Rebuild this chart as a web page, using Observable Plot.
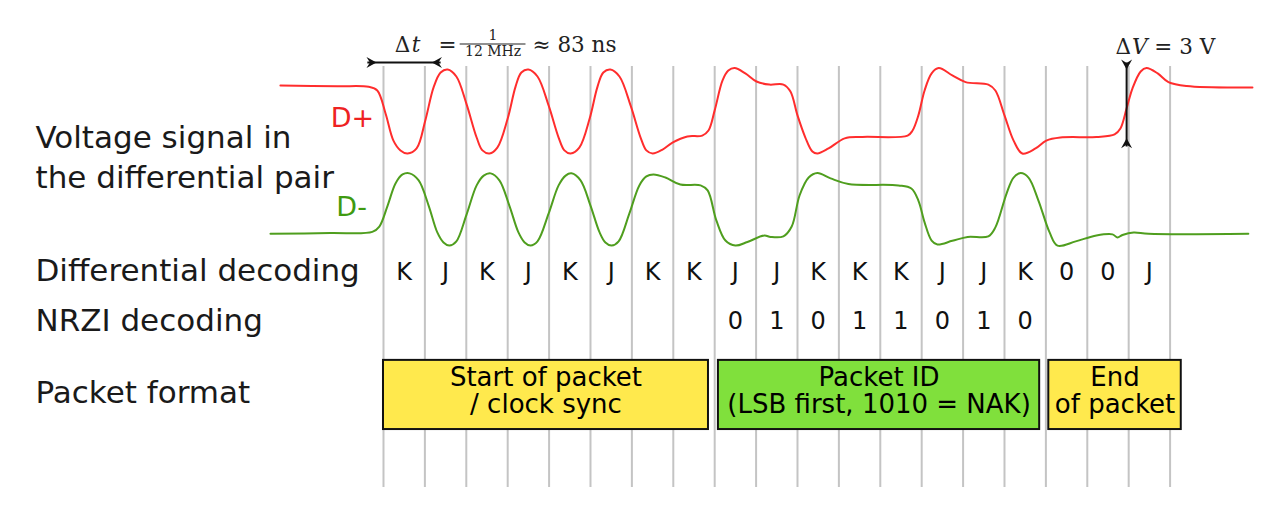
<!DOCTYPE html>
<html>
<head>
<meta charset="utf-8">
<script src="https://cdn.jsdelivr.net/npm/d3@7"></script>
<script src="https://cdn.jsdelivr.net/npm/@observablehq/plot@0.6"></script>
<style>
  html, body { margin: 0; padding: 0; background: #ffffff; }
  #chart svg { display: block; }
</style>
</head>
<body>
<div id="chart"></div>
<script>
// ---------------- DATA ----------------
// bit boundaries (in bit periods, 1 bit = 1/12 MHz)
const bitBoundaries = [0, 1, 2, 3, 4, 5, 6, 7, 8, 9, 10, 11, 12, 13, 14, 15, 16, 17, 18, 19];

// differential decoding, one symbol per bit
const diffSymbols = ["K", "J", "K", "J", "K", "J", "K", "K", "J", "J", "K", "K", "K", "J", "J", "K", "0", "0", "J"];

// NRZI decoded bits, starting at bit 8
const nrziBits = ["0", "1", "0", "1", "1", "0", "1", "0"];
const nrziFirstBit = 8;

// D+ trace: time (bits) and voltage (V)
const dPlusT = [-2.49, -1.11, -0.36, -0.15, 0.05, 0.24, 0.41, 0.58, 0.80, 1.01, 1.21, 1.38, 1.55, 1.76, 2.00, 2.25, 2.39, 2.56,
  2.75, 3.00, 3.19, 3.33, 3.50, 3.72, 3.99, 4.23, 4.37, 4.52, 4.73, 4.98, 5.17, 5.31, 5.48, 5.70, 5.97, 6.21, 6.35, 6.50,
  6.74, 6.98, 7.34, 7.70, 7.85, 8.00, 8.19, 8.33, 8.48, 8.74, 9.01, 9.32, 9.66, 9.83, 10.00, 10.19, 10.36, 10.48, 10.75,
  11.14, 11.57, 12.66, 12.78, 12.92, 13.07, 13.24, 13.41, 13.74, 14.06, 14.61, 14.78, 15.00, 15.22, 15.43, 15.75, 16.01,
  16.35, 17.22, 17.66, 17.80, 17.95, 18.09, 18.29, 18.43, 18.70, 18.96, 19.40, 20.99];
const dPlusV = [2.43, 2.40, 2.38, 2.25, 1.43, 0.46, 0.11, 0.00, 0.18, 1.18, 2.36, 2.89, 3.00, 2.75, 1.79, 0.57, 0.11, 0.00,
  0.21, 1.25, 2.39, 2.89, 3.00, 2.75, 1.71, 0.57, 0.11, 0.00, 0.21, 1.25, 2.39, 2.89, 3.00, 2.75, 1.71, 0.57, 0.11, 0.00,
  0.14, 0.39, 0.61, 0.64, 0.82, 1.54, 2.61, 2.96, 3.05, 2.86, 2.57, 2.46, 2.46, 2.21, 1.36, 0.57, 0.07, 0.00, 0.18,
  0.54, 0.59, 0.64, 0.82, 1.36, 2.25, 2.86, 3.05, 2.79, 2.55, 2.46, 2.25, 1.36, 0.46, 0.00, 0.18, 0.46,
  0.57, 0.59, 0.68, 0.89, 1.61, 2.32, 2.93, 3.05, 2.86, 2.55, 2.41, 2.36];

// D- trace: time (bits) and voltage (V)
const dMinusT = [-2.73, -1.28, -0.27, -0.10, 0.10, 0.29, 0.46, 0.63, 0.85, 1.09, 1.30, 1.45, 1.59, 1.76, 2.00, 2.25, 2.42, 2.59,
  2.80, 3.04, 3.26, 3.41, 3.55, 3.72, 3.99, 4.23, 4.40, 4.54, 4.76, 5.00, 5.22, 5.36, 5.51, 5.68, 5.94, 6.18, 6.35, 6.52,
  6.81, 7.17, 7.66, 7.83, 8.04, 8.26, 8.50, 8.79, 9.20, 9.35, 9.66, 9.86, 10.05, 10.27, 10.48, 10.80, 11.23, 12.44, 12.75,
  12.92, 13.07, 13.24, 13.38, 13.74, 14.11, 14.61, 14.78, 15.05, 15.22, 15.39, 15.58, 15.82, 16.09, 16.28, 16.72, 17.22,
  17.61, 17.73, 17.85, 18.12, 18.48, 20.89];
const dMinusV = [0.43, 0.46, 0.50, 0.69, 1.44, 2.23, 2.55, 2.59, 2.34, 1.44, 0.48, 0.12, 0.01, 0.16, 1.09, 2.16, 2.51, 2.59,
  2.34, 1.44, 0.48, 0.12, 0.01, 0.16, 1.16, 2.16, 2.51, 2.59, 2.34, 1.44, 0.48, 0.12, 0.01, 0.16, 1.16, 2.16, 2.48, 2.55,
  2.44, 2.19, 2.16, 1.98, 0.91, 0.19, 0.01, 0.14, 0.37, 0.32, 0.34, 0.69, 1.80, 2.44, 2.60, 2.41, 2.21, 2.16, 2.05,
  1.62, 0.84, 0.19, 0.05, 0.18, 0.32, 0.34, 0.66, 1.87, 2.44, 2.60, 2.44, 1.62, 0.48, 0.01, 0.16, 0.37,
  0.41, 0.30, 0.39, 0.48, 0.43, 0.43];

// packet fields (in bits)
const fieldStart = [0, 8.09, 16.07];
const fieldEnd = [7.85, 15.85, 19.27];
const fieldLabel = ["Start of packet\n/ clock sync", "Packet ID\n(LSB first, 1010 = NAK)", "End\nof packet"];
const fieldKind = ["sync", "pid", "eop"];

// row labels
const rowLabels = ["Voltage signal in\nthe differential pair", "Differential decoding", "NRZI decoding", "Packet format"];

// annotations
const dtLabel = { delta: "Δ", sym: "t", eq: "=", num: "1", den: "12 MHz", approx: "≈ 83 ns" };
const dvLabel = { delta: "Δ", sym: "V", rest: "= 3 V" };
const dvVolts = [0.25, 3.25];

// ---------------- LAYOUT (data units: bits / volts) ----------------
const L = {
  xDomain: [-9.251, 21.667],
  yDomain: [-13.18, 5.464],
  minusOffset: 3.3,         // D- is drawn 3.3 V below D+
  gridTop: 3.11, gridBottom: -11.93,
  labelX: -8.406,
  rowVoltage: -0.07, rowDiff: -4.2, rowNrzi: -5.98, rowPacket: -8.57,
  diffRow: -4.23,
  boxTop: -7.39, boxBottom: -9.86, boxMid: -8.49,
  dPlusLabel: [-0.75, 1.25], dMinusLabel: [-0.77, -1.93],
  dtArrowY: 3.25, dtArrowX: [-0.39, 1.38], dtTips: [-0.17, 1.17],
  dtTextY: 3.857, dtDeltaX: 0.27, dtSymX: 0.68, dtEqX: 1.33,
  fracX: 2.647, fracNumY: 4.23, fracDenY: 3.65, fracBarY: 3.91, fracBar: [1.84, 3.43], approxX: 3.6,
  dvX: 17.95, dvTips: [0.54, 3.0],
  dvTextY: 3.79, dvDeltaX: 17.68, dvSymX: 18.08, dvRestX: 18.62
};

const colors = { sync: "#ffe94d", pid: "#80e03c", eop: "#ffe94d" };
const red = "#ff2d2d", green = "#4f9e1e";

// ---------------- BUILD ----------------
const dPlus = dPlusT.map((t, i) => ({ t, v: dPlusV[i] }));
const dMinus = dMinusT.map((t, i) => ({ t, v: dMinusV[i] - L.minusOffset }));
const symbols = diffSymbols.map((s, i) => ({ bit: i, s }));
const nrzi = nrziBits.map((b, i) => ({ bit: nrziFirstBit + i, b }));
const fields = fieldLabel.map((label, i) => ({ start: fieldStart[i], end: fieldEnd[i], label, fill: colors[fieldKind[i]] }));
const rows = [
  { text: rowLabels[0], y: L.rowVoltage, lh: 1.29 },
  { text: rowLabels[1], y: L.rowDiff, lh: 1 },
  { text: rowLabels[2], y: L.rowNrzi, lh: 1 },
  { text: rowLabels[3], y: L.rowPacket, lh: 1 }
];

// concave arrowhead symbol pointing right, tip at origin
const arrowHead = {
  draw(ctx) {
    ctx.moveTo(0, 0);
    ctx.lineTo(-10, -5.5);
    ctx.lineTo(-6.5, 0);
    ctx.lineTo(-10, 5.5);
    ctx.closePath();
  }
};
const heads = [
  { x: L.dtTips[0], y: L.dtArrowY, r: 0 },
  { x: L.dtTips[1], y: L.dtArrowY, r: 180 },
  { x: L.dvX, y: L.dvTips[1], r: 90 },
  { x: L.dvX, y: L.dvTips[0], r: -90 }
];

const sans = "DejaVu Sans, Bitstream Vera Sans, sans-serif";
const serif = "DejaVu Serif, Liberation Serif, serif";
const ink = "#111111";
const mathInk = "#222222";
const mathSize = 21.5;

const marks = [
  Plot.ruleX(bitBoundaries, { x: d => d, y1: () => L.gridBottom, y2: () => L.gridTop, stroke: "#c4c4c4", strokeWidth: 2 }),
  Plot.line(dPlus, { x: "t", y: "v", curve: "catmull-rom", stroke: red, strokeWidth: 2 }),
  Plot.line(dMinus, { x: "t", y: "v", curve: "catmull-rom", stroke: green, strokeWidth: 2 }),
  Plot.text(symbols, { x: d => d.bit + 0.5, y: () => L.diffRow, text: "s", fontSize: 24, fontFamily: sans, fill: ink }),
  Plot.text(nrzi, { x: d => d.bit + 0.5, y: () => L.rowNrzi, text: "b", fontSize: 24, fontFamily: sans, fill: ink }),
  Plot.rect(fields, { x1: "start", x2: "end", y1: () => L.boxBottom, y2: () => L.boxTop, fill: "fill", stroke: ink, strokeWidth: 2 }),
  Plot.text(fields, { x: d => (d.start + d.end) / 2, y: () => L.boxMid, text: "label", fontSize: 26, lineHeight: 1.04, fontFamily: sans, fill: "#000" }),
  ...rows.map(r => Plot.text([r], { x: () => L.labelX, y: "y", text: "text", textAnchor: "start", fontSize: 31, lineHeight: r.lh, fontFamily: sans, fill: "#1a1a1a" })),
  Plot.text(["D+"], { x: () => L.dPlusLabel[0], y: () => L.dPlusLabel[1], text: d => d, fontSize: 27, fontFamily: sans, fill: "#ee2222" }),
  Plot.text(["D-"], { x: () => L.dMinusLabel[0], y: () => L.dMinusLabel[1], text: d => d, fontSize: 27, fontFamily: sans, fill: "#3f9a10" }),
  // Δt and ΔV dimension lines
  Plot.link([0], { x1: () => L.dtArrowX[0], x2: () => L.dtArrowX[1], y1: () => L.dtArrowY, y2: () => L.dtArrowY, stroke: ink, strokeWidth: 2 }),
  Plot.link([0], { x1: () => L.dvX, x2: () => L.dvX, y1: () => dvVolts[0], y2: () => dvVolts[1], stroke: ink, strokeWidth: 2 }),
  Plot.dot(heads, { x: "x", y: "y", rotate: "r", symbol: arrowHead, r: 5, fill: ink, stroke: "none" }),
  // Δt label
  Plot.text([dtLabel.delta], { x: () => L.dtDeltaX, y: () => L.dtTextY, text: d => d, textAnchor: "start", fontSize: mathSize, fontFamily: serif, fill: mathInk }),
  Plot.text([dtLabel.sym], { x: () => L.dtSymX, y: () => L.dtTextY, text: d => d, textAnchor: "start", fontSize: mathSize, fontStyle: "italic", fontFamily: serif, fill: mathInk }),
  Plot.text([dtLabel.eq], { x: () => L.dtEqX, y: () => L.dtTextY, text: d => d, textAnchor: "start", fontSize: mathSize, fontFamily: serif, fill: mathInk }),
  Plot.text([dtLabel.num], { x: () => L.fracX, y: () => L.fracNumY, text: d => d, fontSize: 14, fontFamily: serif, fill: mathInk }),
  Plot.text([dtLabel.den], { x: () => L.fracX, y: () => L.fracDenY, text: d => d, fontSize: 14, fontFamily: serif, fill: mathInk }),
  Plot.link([0], { x1: () => L.fracBar[0], x2: () => L.fracBar[1], y1: () => L.fracBarY, y2: () => L.fracBarY, stroke: mathInk, strokeWidth: 1.2 }),
  Plot.text([dtLabel.approx], { x: () => L.approxX, y: () => L.dtTextY, text: d => d, textAnchor: "start", fontSize: mathSize, fontFamily: serif, fill: mathInk }),
  // ΔV label
  Plot.text([dvLabel.delta], { x: () => L.dvDeltaX, y: () => L.dvTextY, text: d => d, textAnchor: "start", fontSize: mathSize, fontFamily: serif, fill: mathInk }),
  Plot.text([dvLabel.sym], { x: () => L.dvSymX, y: () => L.dvTextY, text: d => d, textAnchor: "start", fontSize: mathSize, fontStyle: "italic", fontFamily: serif, fill: mathInk }),
  Plot.text([dvLabel.rest], { x: () => L.dvRestX, y: () => L.dvTextY, text: d => d, textAnchor: "start", fontSize: mathSize, fontFamily: serif, fill: mathInk })
];

const chart = Plot.plot({
  width: 1280,
  height: 522,
  margin: 0,
  style: { background: "#ffffff", overflow: "visible" },
  x: { domain: L.xDomain, axis: null },
  y: { domain: L.yDomain, axis: null },
  color: { type: "identity" },
  marks
});
document.getElementById("chart").appendChild(chart);
</script>
</body>
</html>
